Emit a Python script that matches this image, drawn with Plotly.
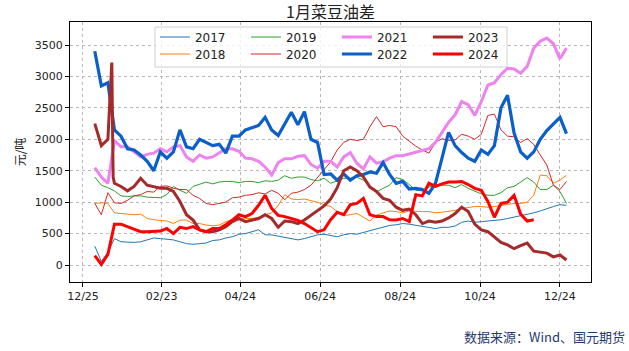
import pandas as pd
import plotly.graph_objects as go

# ---- data (元/吨), sampled every 5 days on a common seasonal calendar ----
dates = pd.date_range("2023-01-03", periods=73, freq="5D")

y2017 = [300, 60, 200, 420, 370, 360, 360, 370, 400, 430, 420, 410,
         400, 370, 340, 330, 340, 350, 390, 400, 430, 450, 490, 500, 530, 560, 480, 480,
         460, 440, 410, 400, 420, 450, 480, 490, 470, 450, 480, 500, 490, 520, 540,
         580, 610, 630, 640, 660, 650, 630, 610, 590, 580, 600, 600, 620, 680, 700,
         680, 690, 700, 700, 720, 740, 760, 780, 800, 830, 860, 900, 930, 960, 950]
y2018 = [980, 990, 980, 830, 820, 810, 800, 810, 740, 720, 710, 700,
         660, 715, 715, 660, 660, 636, 625, 636, 690, 715, 715, 740, 740, 760, 800, 830,
         950, 1120, 1050, 1040, 1050, 1030, 1000, 960, 930, 850, 790, 800, 820, 760, 700,
         795, 830, 860, 850, 830, 860, 850, 850, 850, 830, 840, 850, 870, 900, 920,
         930, 930, 920, 930, 950, 970, 980, 980, 1000, 1110, 1430, 1420, 1300, 1350, 1430]
y2019 = [1400, 1270, 1230, 1180, 1100, 1090, 1100, 1100, 1080, 1070, 1070, 1120,
         1250, 1190, 1140, 1250, 1290, 1320, 1290, 1320, 1330, 1330, 1310, 1330, 1330, 1310, 1340, 1330,
         1350, 1420, 1380, 1400, 1400, 1360, 1340, 1380, 1300, 1340, 1380, 1380, 1400, 1350, 1260,
         1160, 1220, 1270, 1390, 1360, 1280, 1190, 1180, 1240, 1270, 1270, 1270, 1230, 1280, 1220,
         1170, 1130, 1110, 1110, 1150, 1230, 1250, 1320, 1390, 1320, 1200, 1200, 1270, 1170, 980]
y2020 = [980, 800, 1150, 990, 980, 1030, 1100, 1120, 1170, 1160, 1250, 1260,
         1220, 1200, 1200, 1110, 1060, 980, 960, 980, 1000, 1070, 1080, 1110, 1120, 1150, 1130, 1190,
         1140, 1040, 1140, 1160, 1200, 1270, 1390, 1510, 1640, 1830, 1950, 2000, 1980, 2000, 2200,
         2360, 2200, 2220, 2200, 2050, 1970, 1890, 1830, 1780, 1950, 2010, 1980, 1990, 2080, 2050,
         2000, 2080, 2380, 2400, 2150, 2050, 2040, 1950, 2010, 1920, 1750, 1590, 1270, 1200, 1330]
y2021 = [1550, 1400, 1300, 1980, 1880, 1880, 1800, 1720, 1760, 1780, 1850, 1800,
         1880, 1900, 1720, 1650, 1750, 1700, 1720, 1780, 1850, 1850, 1810, 1700, 1690, 1650, 1560, 1430,
         1630, 1690, 1690, 1730, 1740, 1600, 1540, 1650, 1650, 1560, 1720, 1790, 1620, 1530, 1720,
         1620, 1640, 1700, 1740, 1740, 1770, 1790, 1830, 1850, 1950, 2120, 2270, 2390, 2600, 2550,
         2380, 2600, 2860, 2900, 3030, 3130, 3120, 3050, 3160, 3450, 3560, 3610, 3520, 3280, 3450]
y2022 = [3400, 2850, 2900, 2150, 2050, 1850, 1830, 1750, 1650, 1500, 1800, 1700,
         1800, 2150, 1880, 1850, 2000, 1950, 1900, 1920, 1780, 2050, 2050, 2150, 2180, 2220, 2350, 2150,
         2060, 2250, 2430, 2230, 2440, 2000, 1950, 1440, 1450, 1350, 1450, 1350, 1420, 1440, 1480,
         1460, 1630, 1440, 1300, 1330, 1210, 1220, 1200, 1140, 1300, 1700, 2110, 1900, 1790, 1700,
         1650, 1830, 1760, 1900, 2500, 2700, 2100, 1800, 1700, 1800, 2000, 2140, 2250, 2350, 2090]
y2023 = [2250, 1900, 2000, 1300, 1250, 1180, 1250, 1380, 1270, 1245, 1220, 1220,
         1170, 1010, 800, 715, 560, 530, 530, 560, 610, 690, 740, 690, 715, 740, 800, 740,
         600, 700, 690, 660, 715, 790, 860, 940, 1050, 1230, 1500, 1560, 1500, 1400, 1240,
         1170, 1060, 1030, 920, 870, 890, 800, 660, 700, 680, 700, 750, 820, 920, 850,
         650, 560, 530, 440, 360, 320, 260, 310, 350, 220, 210, 190, 130, 160, 80]
spike2023_dates = ["2023-01-16", "2023-01-17"]
spike2023_vals = [3220, 1400]
y2024 = [150, 10, 170, 650, 650, 610, 560, 530, 530, 540, 540, 580,
         500, 600, 580, 610, 560, 530, 580, 580, 640, 715, 800, 770, 820, 950, 1110, 900,
         790, 770, 740, 710, 660, 590, 530, 560, 720, 840, 800, 960, 980, 1060, 800,
         770, 770, 720, 715, 740, 690, 1120, 1100, 1300, 1250, 1290, 1320, 1320, 1330, 1280,
         1220, 1190, 1010, 760, 980, 1000, 1110, 810, 700, 720, None, None, None, None, None]

years = ["2017", "2018", "2019", "2020", "2021", "2022", "2023", "2024"]
colors = ["#1f77b4", "#ff7f0e", "#2ca02c", "#d62728", "#EE82EE", "#0A5FCB", "#A52A2A", "#FF0000"]
widths = [1, 1, 1, 1, 3, 3.2, 3, 3]
legend_row = ["legend", "legend2", "legend", "legend2", "legend", "legend2", "legend", "legend2"]

tick_dates = ["2022-12-25", "2023-02-23", "2023-04-24", "2023-06-24",
              "2023-08-24", "2023-10-24", "2023-12-24"]

s2023 = pd.concat([pd.Series(y2023, index=dates),
                   pd.Series(spike2023_vals, index=pd.to_datetime(spike2023_dates))]).sort_index()

series = {
    "2017": pd.Series(y2017, index=dates),
    "2018": pd.Series(y2018, index=dates),
    "2019": pd.Series(y2019, index=dates),
    "2020": pd.Series(y2020, index=dates),
    "2021": pd.Series(y2021, index=dates),
    "2022": pd.Series(y2022, index=dates),
    "2023": s2023,
    "2024": pd.Series(y2024, index=dates, dtype="float"),
}

fig = go.Figure()
for yr, c, w, lg in zip(years, colors, widths, legend_row):
    s = series[yr]
    fig.add_trace(go.Scatter(
        x=s.index, y=s.values, mode="lines", name=yr,
        line=dict(color=c, width=w), legend=lg,
    ))

font_fam = "DejaVu Sans, Noto Sans CJK SC, sans-serif"
leg_common = dict(orientation="h", x=0.163, xanchor="left", yanchor="middle",
                  entrywidth=46, entrywidthmode="pixels",
                  bgcolor="rgba(0,0,0,0)", borderwidth=0,
                  font=dict(family=font_fam, size=12, color="#222222"),
                  itemwidth=30, tracegroupgap=0)

fig.update_layout(
    width=629, height=351,
    margin=dict(l=70, r=38, t=22, b=69),
    paper_bgcolor="white", plot_bgcolor="white",
    font=dict(family=font_fam, size=11, color="#222222"),
    title=dict(text="1月菜豆油差", x=0.5, xref="paper", xanchor="center",
               y=1 - 12 / 351, yref="container", yanchor="middle",
               font=dict(family="Noto Sans CJK SC, sans-serif", size=16, color="#222222")),
    showlegend=True,
    legend=dict(y=(282 - 37) / 260, **leg_common),
    legend2=dict(y=(282 - 54) / 260, **leg_common),
    shapes=[dict(type="rect", xref="paper", yref="paper",
                 x0=(155 - 70) / 521, x1=(507 - 70) / 521,
                 y0=(282 - 67) / 260, y1=(282 - 27) / 260,
                 fillcolor="rgba(255,255,255,0.8)", line=dict(color="#d0d0d0", width=1),
                 layer="above")],
    annotations=[dict(text="数据来源：Wind、国元期货", xref="paper", yref="paper",
                      x=(627 - 70) / 521, y=(282 - 336) / 260, xanchor="right", yanchor="middle",
                      showarrow=False,
                      font=dict(family="Noto Sans CJK SC, sans-serif", size=13, color="#1F3A70"))],
)
fig.update_xaxes(
    type="date", range=["2022-12-15 02:00", "2024-01-16 17:00"],
    tickvals=tick_dates, tickformat="%m/%d",
    showline=True, mirror=True, linecolor="black", linewidth=1,
    ticks="outside", ticklen=4, tickcolor="black",
    showgrid=True, gridcolor="#b8b8b8", griddash="dot", gridwidth=0.8,
    zeroline=False,
)
fig.update_yaxes(
    range=[-270, 3866], tickvals=[0, 500, 1000, 1500, 2000, 2500, 3000, 3500],
    showline=True, mirror=True, linecolor="black", linewidth=1,
    ticks="outside", ticklen=4, tickcolor="black",
    showgrid=True, gridcolor="#b8b8b8", griddash="dot", gridwidth=0.8,
    zeroline=False,
    title=dict(text="元/吨", font=dict(family="Noto Sans CJK SC, sans-serif", size=12), standoff=6),
)

fig.write_html("out.html")
